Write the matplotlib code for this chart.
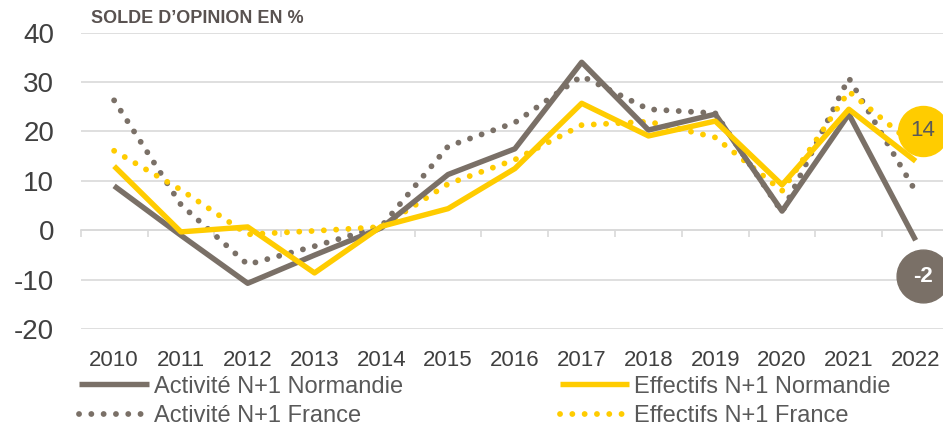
import numpy as np
import matplotlib.pyplot as plt
from matplotlib.transforms import offset_copy

plt.rcParams['font.family'] = ['Liberation Sans', 'DejaVu Sans']
plt.rcParams['axes.unicode_minus'] = False

# Data (solde d'opinion, %)
years = ['2010', '2011', '2012', '2013', '2014', '2015', '2016',
         '2017', '2018', '2019', '2020', '2021', '2022']
activite_normandie = [9, -1, -10.7, -5, 0.5, 11.3, 16.5, 34, 20.3, 23.5, 3.9, 23.5, -2]
effectifs_normandie = [13, -0.3, 0.7, -8.6, 0.8, 4.4, 12.5, 25.7, 19.1, 22.1, 9.2, 24.5, 14]
activite_france = [26.3, 5.2, -6.9, -3.2, 0.8, 17, 21.8, 31.2, 24.5, 23.7, 3.7, 30.8, 7.9]
effectifs_france = [16.1, 8.2, -0.8, -0.1, 0.7, 9.4, 14.3, 21.3, 22, 18.8, 8, 28.1, 17]

GRAY = '#7A7067'
YELLOW = '#FFCC00'
GRID = '#D9D9D9'
TXT = '#404040'

fig = plt.figure(figsize=(9.43, 4.26), dpi=100)
ax = fig.add_axes([0.0856, 0.227, 0.9208, 0.6965])

x = np.arange(len(years))
lw = 3.9
dot_lw = 4.2
dot = (0, (0.01, 2.1))

l_af, = ax.plot(x, activite_france, color=GRAY, lw=dot_lw, ls=dot,
                dash_capstyle='round', label='Activité N+1 France', zorder=3)
l_ef, = ax.plot(x, effectifs_france, color=YELLOW, lw=dot_lw, ls=dot,
                dash_capstyle='round', label='Effectifs N+1 France', zorder=3)
l_an, = ax.plot(x, activite_normandie, color=GRAY, lw=lw,
                solid_capstyle='butt', label='Activité N+1 Normandie', zorder=4)
l_en, = ax.plot(x, effectifs_normandie, color=YELLOW, lw=lw,
                solid_capstyle='butt', label='Effectifs N+1 Normandie', zorder=5)

ax.set_xlim(-0.5, len(years) - 0.5)
ax.set_ylim(-20, 40)
ax.set_yticks(range(-20, 41, 10))
ax.yaxis.grid(True, color=GRID, lw=1.2)
ax.set_axisbelow(True)
ax.tick_params(axis='y', length=0, pad=19, labelsize=20, labelcolor=TXT)

for s in ['top', 'right', 'left']:
    ax.spines[s].set_visible(False)
ax.spines['bottom'].set_position(('data', 0))
ax.spines['bottom'].set_color(GRID)
ax.spines['bottom'].set_linewidth(1.2)
ax.set_xticks(np.arange(-0.5, len(years), 1.0))
ax.set_xticklabels([])
ax.tick_params(axis='x', length=5, width=1.2, color=GRID, direction='out')

# category labels along the bottom edge
sec = ax.secondary_xaxis(0.0)
sec.set_xticks(x)
sec.set_xticklabels(years)
sec.spines['bottom'].set_visible(False)
sec.tick_params(length=0, pad=15, labelsize=16, labelcolor=TXT)

# last-value bubbles
tr_y = offset_copy(ax.transData, fig=fig, x=5, y=22, units='points')
ax.plot(x[-1], effectifs_normandie[-1], 'o', ms=36, color=YELLOW,
        transform=tr_y, zorder=6, clip_on=False)
ax.text(x[-1], effectifs_normandie[-1], f'{effectifs_normandie[-1]:g}', transform=tr_y,
        ha='center', va='center', fontsize=16, color='#595959', zorder=7)
tr_g = offset_copy(ax.transData, fig=fig, x=5, y=-26, units='points')
ax.plot(x[-1], activite_normandie[-1], 'o', ms=38, color=GRAY,
        transform=tr_g, zorder=6, clip_on=False)
ax.text(x[-1], activite_normandie[-1], f'{activite_normandie[-1]:g}', transform=tr_g,
        ha='center', va='center', fontsize=16, color='white',
        fontweight='bold', zorder=7)

fig.text(0.097, 0.957, 'SOLDE D\u2019OPINION EN %', fontsize=13, fontweight='bold',
         color='#595250', va='center')

fig.legend(handles=[l_an, l_af, l_en, l_ef], ncol=2, loc='upper left',
           bbox_to_anchor=(0.084, 0.118), frameon=False, fontsize=17,
           handlelength=2.95, handletextpad=0.2, columnspacing=6.65,
           labelspacing=0.3, borderpad=0, borderaxespad=0, labelcolor='#595959')

fig.savefig('out.png', dpi=100)
